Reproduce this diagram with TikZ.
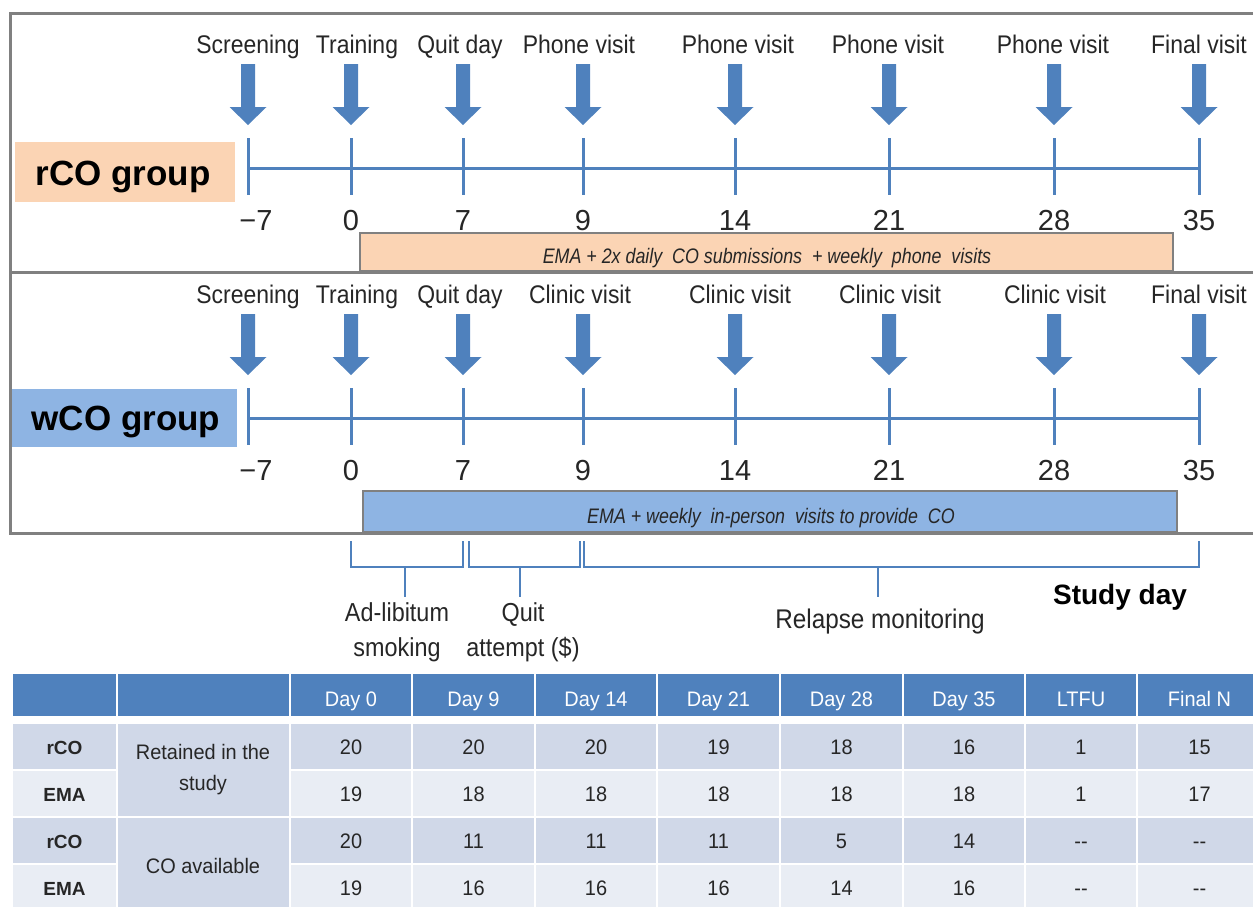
\documentclass[tikz,border=0pt]{standalone}
\usepackage{fontspec}
\setmainfont{Liberation Sans}
\newfontfamily\cond[FakeStretch=0.9]{Liberation Sans}
\newfontfamily\condi[FakeStretch=0.85]{Liberation Sans}
\newfontfamily\condt[FakeStretch=0.95]{Liberation Sans}
\definecolor{ablue}{HTML}{4F81BD}
\definecolor{rcofill}{HTML}{FBD4B4}
\definecolor{wcofill}{HTML}{8EB4E3}
\definecolor{framegray}{HTML}{808080}
\definecolor{rowdark}{HTML}{D0D8E8}
\definecolor{rowlight}{HTML}{E9EDF4}
\tikzset{
  lbl/.style={font=\cond\fontsize{25.5}{28}\selectfont, anchor=base, inner sep=0pt, text=black!85},
  num/.style={font=\fontsize{29}{32}\selectfont, anchor=base, inner sep=0pt, text=black!85},
  axisline/.style={draw=ablue, line width=3pt},
  frame/.style={draw=framegray, line width=3pt},
  grpbox/.style={inner sep=0pt},
  grptext/.style={inner sep=0pt, anchor=base, font=\bfseries\fontsize{35}{40}\selectfont},
  barbox/.style={draw=framegray, line width=1.2pt, inner sep=0pt},
  bartext/.style={inner sep=0pt, anchor=base, font=\condi\itshape\fontsize{21}{24}\selectfont, text=black!85},
  brk/.style={draw=ablue, line width=2.5pt},
  blbl/.style={font=\cond\fontsize{26}{30}\selectfont, anchor=base, inner sep=0pt, text=black!85},
  cell/.style={draw=white, line width=2pt},
  ctext/.style={font=\condt\fontsize{21}{25}\selectfont, inner sep=0pt, text=black!85},
  btext/.style={font=\condt\fontsize{21}{25}\selectfont, inner sep=0pt, anchor=base, text=black!85},
  htext/.style={font=\condt\fontsize{21}{25}\selectfont, inner sep=0pt, anchor=base, text=white},
}
\begin{document}
\begin{tikzpicture}[x=1pt,y=-1pt]
\useasboundingbox (0,0) rectangle (1253,906);
\begin{scope}
\clip (0,0) rectangle (1253,906);
% ---------- bars ----------
\node[barbox, fill=rcofill, minimum width=813pt, minimum height=38pt] (bar1) at (766.5,252) {};
\node[bartext] (bar1t) at (767,263) {EMA + 2x daily\ \ CO submissions\ \ + weekly\ \ phone\ \ visits};
\node[barbox, fill=wcofill, minimum width=814pt, minimum height=41pt] (bar2) at (770,511.5) {};
\node[bartext] (bar2t) at (771,523) {EMA + weekly\ \ in-person\ \ visits to provide\ \ CO};
% ---------- frames ----------
\draw[frame] (10,13) rectangle (1275,272);
\draw[frame] (10,272) rectangle (1275,533);
% ---------- group labels ----------
\node[grpbox, fill=rcofill, minimum width=220pt, minimum height=60pt] (rco) at (125,172) {};
\node[grptext] (rcot) at (123,185) {rCO group};
\node[grpbox, fill=wcofill, minimum width=225pt, minimum height=58pt] (wco) at (124.5,418) {};
\node[grptext] (wcot) at (126,430) {wCO group};
% ---------- arrows, ticks ----------
\foreach \x [count=\i] in {248,351,463,583,735,889,1054,1199}{
  \foreach \oy/\g in {0/a,250/b}{
    \fill[ablue] (\x-7,64+\oy) -- (\x+7,64+\oy) -- (\x+7,107+\oy) -- (\x+18.5,107+\oy)
      -- (\x,125+\oy) -- (\x-18.5,107+\oy) -- (\x-7,107+\oy) -- cycle;
    \draw[axisline] (\x,138+\oy) -- (\x,195+\oy);
    \coordinate (\g\i) at (\x,168+\oy);
  }
}
\draw[axisline] (a1) -- (a8);
\draw[axisline] (b1) -- (b8);
% ---------- top labels ----------
\foreach \x/\t [count=\i] in {248/Screening,357/Training,460/Quit day,579/Phone visit,738/Phone visit,888/Phone visit,1053/Phone visit,1199/Final visit}{
  \node[lbl] (la\i) at (\x,53) {\t};
}
\foreach \x/\t [count=\i] in {248/Screening,357/Training,460/Quit day,580/Clinic visit,740/Clinic visit,890/Clinic visit,1055/Clinic visit,1199/Final visit}{
  \node[lbl] (lb\i) at (\x,303) {\t};
}
% ---------- day numbers ----------
\foreach \x/\t [count=\i] in {256/−7,351/0,463/7,583/9,735/14,889/21,1054/28,1199/35}{
  \node[num] (na\i) at (\x,230) {\t};
  \node[num] (nb\i) at (\x,480) {\t};
}
% ---------- brackets ----------
\coordinate (p1) at (351,541); \coordinate (p2) at (351,567);
\coordinate (p3) at (463,567); \coordinate (p4) at (463,541);
\coordinate (q1) at (469,541); \coordinate (q2) at (469,567);
\coordinate (q3) at (580,567); \coordinate (q4) at (580,541);
\coordinate (r1) at (584,541); \coordinate (r2) at (584,567);
\coordinate (r3) at (1199,567); \coordinate (r4) at (1199,541);
\draw[brk] (p1) -- (p2) -- (p3) -- (p4);
\draw[brk] (q1) -- (q2) -- (q3) -- (q4);
\draw[brk] (r1) -- (r2) -- (r3) -- (r4);
\node[blbl] (adlib) at (397,621) {Ad-libitum};
\node[blbl] (smok) at (397,656) {smoking};
\node[blbl] (quit) at (523,621) {Quit};
\node[blbl] (att) at (523,656) {attempt (\$)};
\node[blbl, font=\cond\fontsize{27}{30}\selectfont] (relapse) at (880,628) {Relapse monitoring};
\node[font=\bfseries\fontsize{28}{32}\selectfont, anchor=base, inner sep=0pt] (study) at (1120,604) {Study day};
\coordinate (s1a) at (405,567); \coordinate (s1b) at (405,597);
\coordinate (s2a) at (520,567); \coordinate (s2b) at (520,597);
\coordinate (s3a) at (878,567); \coordinate (s3b) at (878,597);
\draw[brk] (s1a) -- (s1b);
\draw[brk] (s2a) -- (s2b);
\draw[brk] (s3a) -- (s3b);
% ---------- table ----------
\foreach \l/\r in {12/117,117/290,290/412,412/535,535/657,657/780,780/903,903/1025,1025/1137,1137/1262}{
  \path[cell, fill=ablue] (\l,673) rectangle (\r,717);
}
\foreach \x/\t [count=\i] in {351/Day 0,473.5/Day 9,596/Day 14,718.5/Day 21,841.5/Day 28,964/Day 35,1081/LTFU,1199.5/Final N}{
  \node[htext] (h\i) at (\x,706) {\t};
}
\foreach \t/\b/\c in {723/770/rowdark,770/817/rowlight,817/864/rowdark,864/911/rowlight}{
  \path[cell, fill=\c] (12,\t) rectangle (117,\b);
  \foreach \l/\r in {290/412,412/535,535/657,657/780,780/903,903/1025,1025/1137,1137/1262}{
    \path[cell, fill=\c] (\l,\t) rectangle (\r,\b);
  }
}
\path[cell, fill=rowdark] (117,723) rectangle (290,817);
\path[cell, fill=rowdark] (117,817) rectangle (290,911);
\node[ctext, align=center, font=\condt\fontsize{21}{31}\selectfont] (ret) at (203,770) {Retained in the\\study};
\node[ctext] (coav) at (203,866) {CO available};
\foreach \y/\g/\va/\vb/\vc/\vd/\ve/\vf/\vg/\vh [count=\j] in
  {754/rCO/20/20/20/19/18/16/1/15,
   801/EMA/19/18/18/18/18/18/1/17,
   848/rCO/20/11/11/11/5/14/-{}-/-{}-,
   895/EMA/19/16/16/16/14/16/-{}-/-{}-}{
  \node[btext, font=\bfseries\fontsize{19}{23}\selectfont] (g\j) at (64.5,\y) {\g};
  \node[btext] (c\j a) at (351,\y) {\va};
  \node[btext] (c\j b) at (473.5,\y) {\vb};
  \node[btext] (c\j c) at (596,\y) {\vc};
  \node[btext] (c\j d) at (718.5,\y) {\vd};
  \node[btext] (c\j e) at (841.5,\y) {\ve};
  \node[btext] (c\j f) at (964,\y) {\vf};
  \node[btext] (c\j g) at (1081,\y) {\vg};
  \node[btext] (c\j h) at (1199.5,\y) {\vh};
}
\end{scope}
\end{tikzpicture}
\end{document}
